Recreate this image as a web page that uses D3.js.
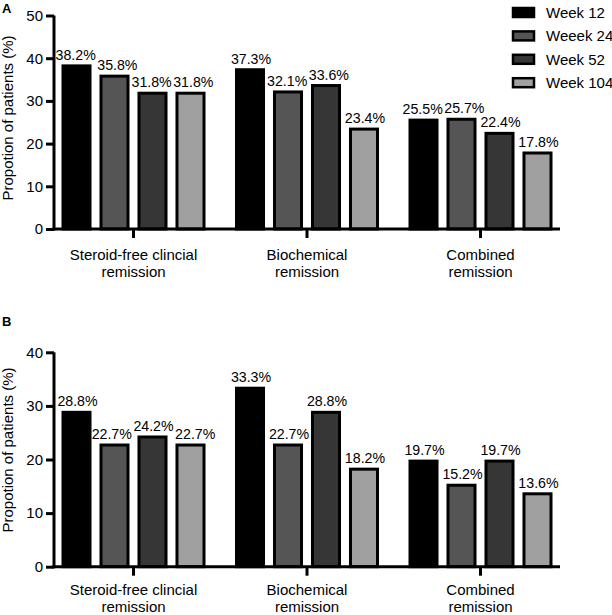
<!DOCTYPE html>
<html>
<head>
<meta charset="utf-8">
<script src="https://cdn.jsdelivr.net/npm/d3@7"></script>
<style>
  body { margin: 0; background: #fff; }
  text { font-family: "Liberation Sans", Arial, Helvetica, sans-serif; fill: #000; }
</style>
</head>
<body>
<svg id="chart" width="612" height="615"></svg>
<script>
const categories = ["Steroid-free clincial\nremission", "Biochemical\nremission", "Combined\nremission"];
const seriesNames = ["Week 12", "Weeek 24", "Week 52", "Week 104"];
const seriesColors = ["#000000", "#555555", "#363636", "#a0a0a0"];
// Panel A values (rows = categories, cols = series)
const valuesA = [
  [38.2, 35.8, 31.8, 31.8],
  [37.3, 32.1, 33.6, 23.4],
  [25.5, 25.7, 22.4, 17.8]
];
// Panel B values
const valuesB = [
  [28.8, 22.7, 24.2, 22.7],
  [33.3, 22.7, 28.8, 18.2],
  [19.7, 15.2, 19.7, 13.6]
];
const ticksA = [0, 10, 20, 30, 40, 50];
const ticksB = [0, 10, 20, 30, 40];

const svg = d3.select("#chart");
const FS = 15;
const LFS = 14.2;

function panel(opts) {
  const { letter, letterY, values, ticks, yMax, yTop, yBottom, titleY, catOffset } = opts;
  const g = svg.append("g");
  const axisX0 = 54, axisX1 = 560;
  const x0 = d3.scaleBand().domain(categories).range([46.75, 567.25]).padding(0);
  const x1 = d3.scaleBand().domain(seriesNames).range([-72, 72]).paddingInner(0.21).paddingOuter(0);
  const y = d3.scaleLinear().domain([0, yMax]).range([yBottom, yTop]);

  g.append("text").attr("x", 2).attr("y", letterY)
    .style("font-weight", "bold").style("font-size", "13px").text(letter);

  // bars
  categories.forEach((c, ci) => {
    const cx = x0(c) + x0.bandwidth() / 2;
    const labels = [];
    seriesNames.forEach((s, si) => {
      const v = values[ci][si];
      const bx = cx + x1(s);
      g.append("rect")
        .attr("x", bx + 1.5).attr("width", x1.bandwidth() - 3)
        .attr("y", y(v)).attr("height", y(0) - y(v))
        .attr("fill", seriesColors[si]).attr("stroke", "#000").attr("stroke-width", 3);
      const t = g.append("text")
        .attr("y", y(v) - 6)
        .attr("text-anchor", "middle").style("font-size", LFS + "px")
        .text(v.toFixed(1) + "%");
      labels.push({ node: t, x: bx + x1.bandwidth() / 2 + 1, y: y(v) - 6, w: t.node().getComputedTextLength() });
    });
    // simple collision avoidance between neighbouring labels
    for (let iter = 0; iter < 6; iter++) {
      for (let i = 1; i < labels.length; i++) {
        const a = labels[i - 1], b = labels[i];
        if (Math.abs(a.y - b.y) < 13) {
          const ov = (a.x + a.w / 2 + 1.5) - (b.x - b.w / 2);
          if (ov > 0) { a.x -= ov / 2; b.x += ov / 2; }
        }
      }
    }
    labels.forEach(l => l.node.attr("x", l.x));
  });

  // y axis
  const yAxis = d3.axisLeft(y).tickValues(ticks).tickSize(8).tickPadding(3).tickFormat(d3.format("d"));
  const ya = g.append("g").attr("transform", `translate(${axisX0},0)`).call(yAxis);
  ya.select(".domain").remove();
  ya.selectAll(".tick line").attr("stroke", "#000").attr("stroke-width", 3);
  ya.selectAll(".tick text").style("font-size", FS + "px").attr("fill", "#000");
  g.append("line").attr("x1", axisX0).attr("x2", axisX0)
    .attr("y1", yTop).attr("y2", yBottom + 1.5)
    .attr("stroke", "#000").attr("stroke-width", 3);

  // x axis
  const xAxis = d3.axisBottom(x0).tickSize(9).tickFormat("");
  const xa = g.append("g").attr("transform", `translate(0,${yBottom})`).call(xAxis);
  xa.select(".domain").remove();
  xa.selectAll(".tick line").attr("stroke", "#000").attr("stroke-width", 3);
  g.append("line").attr("x1", axisX0 - 1.5).attr("x2", axisX1)
    .attr("y1", yBottom).attr("y2", yBottom)
    .attr("stroke", "#000").attr("stroke-width", 3);
  categories.forEach(c => {
    const cx = x0(c) + x0.bandwidth() / 2;
    const lines = c.split("\n");
    const t = g.append("text").attr("text-anchor", "middle").style("font-size", FS + "px");
    lines.forEach((ln, i) => {
      t.append("tspan").attr("x", cx).attr("y", yBottom + catOffset + i * 17).text(ln);
    });
  });

  // y title
  g.append("text")
    .attr("transform", `translate(13,${titleY}) rotate(-90)`)
    .attr("text-anchor", "middle").style("font-size", FS + "px")
    .text("Propotion of patients (%)");
}

panel({ letter: "A", letterY: 13, values: valuesA, ticks: ticksA, yMax: 50, yTop: 15.5, yBottom: 229, titleY: 118, catOffset: 30.5 });
panel({ letter: "B", letterY: 326, values: valuesB, ticks: ticksB, yMax: 40, yTop: 352.3, yBottom: 566.7, titleY: 450, catOffset: 28 });

// legend
const leg = svg.append("g");
seriesNames.forEach((s, i) => {
  const cy = 12.5 + i * 23.4;
  leg.append("rect").attr("x", 513).attr("y", cy - 4.5).attr("width", 21).attr("height", 9)
    .attr("fill", seriesColors[i]).attr("stroke", "#000").attr("stroke-width", 2.5);
  leg.append("text").attr("x", 546).attr("y", cy + 5.4).style("font-size", FS + "px").text(s);
});
</script>
</body>
</html>
